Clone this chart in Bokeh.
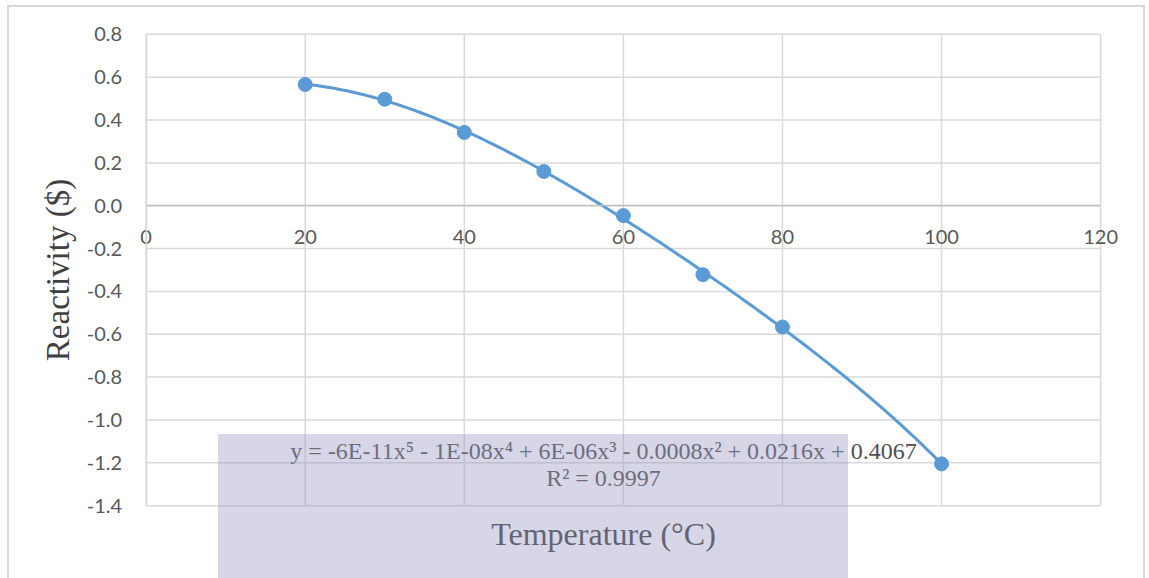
import numpy as np
from bokeh.plotting import figure
from bokeh.models import (Range1d, Label, FixedTicker, Title, LinearAxis,
                          CustomJSTickFormatter, InlineStyleSheet)
from bokeh.embed import file_html
from bokeh.resources import INLINE

temperature = [20, 30, 40, 50, 60, 70, 80, 100]
reactivity = [0.566, 0.497, 0.342, 0.160, -0.046, -0.322, -0.566, -1.205]
x_ticks = [0, 20, 40, 60, 80, 100, 120]
y_ticks = [0.8, 0.6, 0.4, 0.2, 0.0, -0.2, -0.4, -0.6, -0.8, -1.0, -1.2, -1.4]
equation_text = "y = -6E-11x\u2075 - 1E-08x\u2074 + 6E-06x\u00b3 - 0.0008x\u00b2 + 0.0216x + 0.4067"
r2_text = "R\u00b2 = 0.9997"

BLUE = "#5B9BD5"
GRID = "#D9D9D9"
TICKCOL = "#595959"
TICKFONT = "Lato"

css = """
:host { position: relative; }
:host::before { content: ""; position: absolute; left: 7px; top: 5px; width: 1138px; height: 580px;
  border-left: 2px solid #D9D9D9; border-top: 2px solid #D9D9D9; border-right: 2px solid #D9D9D9;
  pointer-events: none; z-index: 5; box-sizing: border-box; }
:host::after { content: ""; position: absolute; left: 218px; top: 434px; width: 630px; height: 144px;
  background: rgba(152,152,192,0.40); pointer-events: none; z-index: 6; }
"""

xmin, xmax = x_ticks[0], x_ticks[-1]
ymin, ymax = min(y_ticks), max(y_ticks)

p = figure(width=1149, height=578, output_backend="svg", toolbar_location=None,
           x_range=Range1d(-7.5, 122.5), y_range=Range1d(-1.46, 0.86),
           min_border_left=86, min_border_right=29, min_border_top=21, min_border_bottom=60,
           y_axis_location=None)
p.stylesheets = [InlineStyleSheet(css=css)]
p.outline_line_color = None
p.background_fill_color = "white"

# y axis drawn at x = 0
yax = LinearAxis(fixed_location=0, ticker=FixedTicker(ticks=y_ticks), bounds=(ymin, ymax),
                 formatter=CustomJSTickFormatter(code="return tick.toFixed(1);"))
yax.major_tick_line_color = None
yax.minor_tick_line_color = None
yax.major_tick_out = 0
yax.major_tick_in = 0
yax.axis_line_color = GRID
yax.axis_line_width = 1.5
yax.major_label_text_font = TICKFONT
yax.major_label_text_font_size = "20px"
yax.major_label_text_color = TICKCOL
yax.major_label_standoff = 24
p.add_layout(yax, "left")

# y axis title only
ytitle = LinearAxis(ticker=FixedTicker(ticks=[]), axis_label="Reactivity ($)")
ytitle.axis_line_color = None
ytitle.major_tick_line_color = None
ytitle.minor_tick_line_color = None
ytitle.major_tick_out = 0
ytitle.axis_label_text_font = "Liberation Serif"
ytitle.axis_label_text_font_style = "normal"
ytitle.axis_label_text_font_size = "33px"
ytitle.axis_label_text_color = "#404040"
ytitle.axis_label_standoff = 11
p.add_layout(ytitle, "left")

# x axis crossing at y = 0
p.xaxis.fixed_location = 0
p.xaxis.bounds = (xmin, xmax)
p.xaxis.ticker = FixedTicker(ticks=x_ticks)
p.xaxis.major_tick_line_color = None
p.xaxis.minor_tick_line_color = None
p.xaxis.major_tick_out = 0
p.xaxis.major_tick_in = 0
p.xaxis.axis_line_color = "#BFBFBF"
p.xaxis.axis_line_width = 1.5
p.xaxis.major_label_text_font = TICKFONT
p.xaxis.major_label_text_font_size = "20px"
p.xaxis.major_label_text_color = TICKCOL
p.xaxis.major_label_standoff = 24

# grid lines limited to the plot area 0..120 x -1.4..0.8
p.xgrid.grid_line_color = None
p.ygrid.grid_line_color = None
p.segment(x0=[xmin] * len(y_ticks), x1=[xmax] * len(y_ticks), y0=y_ticks, y1=y_ticks,
          line_color=GRID, line_width=1.5, level="underlay")
p.segment(x0=x_ticks, x1=x_ticks, y0=[ymin] * len(x_ticks), y1=[ymax] * len(x_ticks),
          line_color=GRID, line_width=1.5, level="underlay")

# trendline: 5th-order polynomial fit of the data
coef = np.polyfit(temperature, reactivity, 5)
xs = np.linspace(min(temperature), max(temperature), 200)
p.line(xs, np.polyval(coef, xs), line_color=BLUE, line_width=3)
p.scatter(temperature, reactivity, size=14, fill_color=BLUE, line_color=BLUE)

# equation labels
p.add_layout(Label(x=57.5, y=-1.143, text=equation_text, text_align="center", text_baseline="middle",
                   text_font="Liberation Serif", text_font_size="24px", text_color="#505050"))
p.add_layout(Label(x=57.5, y=-1.27, text=r2_text, text_align="center", text_baseline="middle",
                   text_font="Liberation Serif", text_font_size="24px", text_color="#505050"))

# x axis title
p.add_layout(Title(text="Temperature (\u00b0C)", align="center", text_font="Liberation Serif",
                   text_font_style="normal", text_font_size="32px", text_color="#404040",
                   standoff=-10), "below")

open("out.html", "w").write(file_html(p, INLINE))
